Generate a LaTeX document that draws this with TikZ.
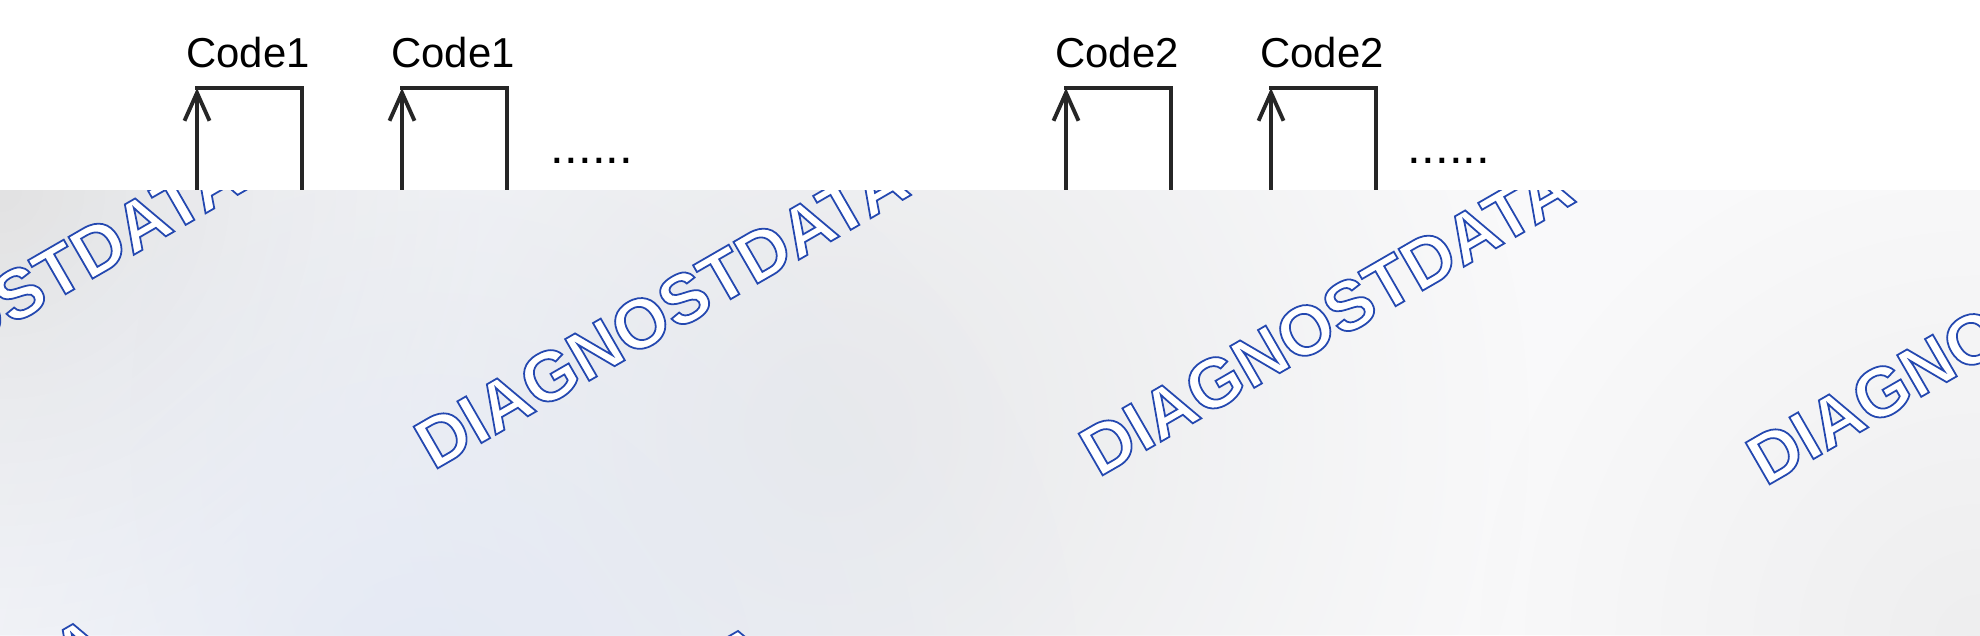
\documentclass[tikz,border=0pt]{standalone}
\usepackage{fontspec}
\setmainfont{Liberation Sans}
\usetikzlibrary{arrows.meta}
\usetikzlibrary{fadings}

\definecolor{wmblue}{RGB}{36,72,176}
\definecolor{panelgray}{RGB}{249,249,250}

\tikzfading[name=blobfade, inner color=transparent!0, outer color=transparent!100]

% outlined letters: white fill, blue stroke
\newcommand{\outlinetext}[1]{\special{pdf:literal direct 1 1 1 rg 2 Tr 0.5 w}#1\special{pdf:literal direct 0 Tr}}

\tikzset{
  pulse/.style={line width=1.1pt, black!85},
  pulsearrow/.style={pulse, -{Straight Barb[length=2.8mm,width=2.5mm]}},
  codelabel/.style={anchor=base, inner sep=0pt, font=\fontsize{11.9}{14}\selectfont},
  dotslabel/.style={anchor=base, inner sep=0pt, font=\fontsize{14}{16}\selectfont},
  wmtext/.style={anchor=base west, inner sep=0pt, rotate=30, text=wmblue, font=\fontsize{19.9}{24}\selectfont\bfseries},
}

\begin{document}
\begin{tikzpicture}[x=0.01cm, y=-0.01cm]
 \useasboundingbox (0,0) rectangle (1980,635);
 \fill[white] (0,0) rectangle (1980,635);

 %pulses, group 1 and group 2
 \foreach \dx/\code/\dotsx in {197/1/592, 1066/2/1449} {
   \foreach \i in {0,1} {
     \coordinate (B\code\i) at (\dx + \i*205, 200);
     \coordinate (L\code\i) at (\dx + \i*205, 88);
     \coordinate (R\code\i) at (\dx + \i*205 + 105, 88);
     \coordinate (E\code\i) at (\dx + \i*205 + 105, 200);
     \draw[pulsearrow] (B\code\i) -- (L\code\i);
     \draw[pulse, line cap=rect] (L\code\i) -- (R\code\i) -- (E\code\i);
     \node[codelabel] (C\code\i) at (\dx + \i*205 + 51, 67) {Code\code};
   }
   \node[dotslabel] (D\code) at (\dotsx, 163) {......};
 }

 %panel
 \fill[panelgray] (0,190) rectangle (1980,635);
 \begin{scope}
  \clip (0,190) rectangle (1980,635);
  \fill[color={rgb,255:red,226;green,226;blue,227}, path fading=blobfade] (0,190) circle (480);
  \fill[color={rgb,255:red,232;green,233;blue,235}, path fading=blobfade] (830,430) circle (700);
  \fill[color={rgb,255:red,228;green,233;blue,244}, path fading=blobfade] (430,700) circle (650);
  \fill[color={rgb,255:red,238;green,238;blue,239}, path fading=blobfade] (1980,640) circle (500);

  %watermark
  \foreach \wx/\wy [count=\k] in {-232/466, 433/471, 1098/478, 1765/487, -366/933, 299/940, 964/947} {
    \node[wmtext] (W\k) at (\wx,\wy) {\outlinetext{DIAGNOSTDATA}};
  }
 \end{scope}

\end{tikzpicture}
\end{document}
